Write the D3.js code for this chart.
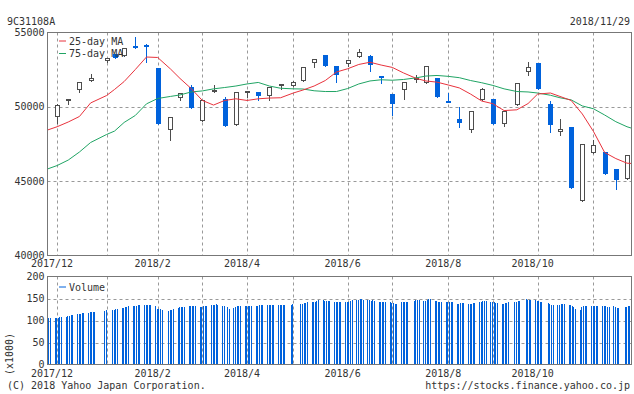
<!DOCTYPE html>
<html>
<head>
<meta charset="utf-8">
<script src="https://cdn.jsdelivr.net/npm/d3@7"></script>
<style>
  body { margin: 0; background: #fff; }
  text { font-family: "DejaVu Sans Mono", monospace; font-size: 10px; fill: #333; }
</style>
</head>
<body>
<svg id="chart" width="634" height="394"></svg>
<script>
// weekly candles (first trading day of each week)
const weekStarts = [
  "2017-12-04","2017-12-11","2017-12-18","2017-12-25","2018-01-04","2018-01-09","2018-01-15","2018-01-22","2018-01-29",
  "2018-02-05","2018-02-13","2018-02-19","2018-02-26","2018-03-05","2018-03-12","2018-03-19","2018-03-26",
  "2018-04-02","2018-04-09","2018-04-16","2018-04-23","2018-05-01","2018-05-07","2018-05-14","2018-05-21","2018-05-28",
  "2018-06-04","2018-06-11","2018-06-18","2018-06-25","2018-07-02","2018-07-09","2018-07-17","2018-07-23","2018-07-30",
  "2018-08-06","2018-08-13","2018-08-20","2018-08-27","2018-09-03","2018-09-10","2018-09-18","2018-09-25",
  "2018-10-01","2018-10-09","2018-10-15","2018-10-22","2018-10-29","2018-11-05","2018-11-12","2018-11-19","2018-11-26"
];
const opens = [
  49300,50360,51100,51770,53070,53570,53410,54060,54190,52600,48460,50610,51320,49080,51050,50540,48790,
  51030,51030,50740,51370,51390,51720,52940,53520,52780,52900,53340,53450,52090,50830,51150,51820,51620,51950,
  50380,49150,48460,50470,50560,48860,50140,52330,52980,50160,48320,48610,43680,46910,46930,45850,45160
];
const highs = [
  50160,50540,51700,52220,53270,53570,53970,54680,54240,52600,49300,50940,51500,50470,51500,50650,51030,
  51090,51030,51320,51550,51770,52710,53230,53520,52780,53180,53860,53500,52090,50830,51700,52160,52780,51950,
  50920,50020,49690,51250,50560,49730,51620,53000,52980,50360,49200,48610,47470,47800,46930,45850,46770
];
const lows = [
  48900,50160,51000,51770,53000,53270,53410,53990,53000,48860,47780,50430,49910,49080,51000,48700,48790,
  50650,50430,50490,51170,51390,51720,52710,52730,51660,52730,53340,52400,51590,49420,50540,51700,51620,50650,
  50340,48630,48290,50470,48860,48740,50140,52160,51170,48290,48120,44530,43680,46910,45470,44440,45160
];
const closes = [
  50090,50540,51700,51930,53270,53270,53970,53990,54100,48860,49300,50940,49910,50470,51120,48700,51030,
  51090,50700,51320,51550,51640,52710,53230,52730,52160,53120,53720,52830,51990,50160,51700,51950,52780,50650,
  50340,48900,49690,51170,48860,49730,51620,52670,51170,48790,48480,44530,47470,47450,45470,45050,46770
];

// moving averages read at the candle positions (plus both ends)
const maDates = ["2017-11-28"].concat(weekStarts, ["2018-11-29"]);
const ma25 = [
  48440,48660,48980,49350,50260,50760,51170,51700,52510,53350,53320,52550,51910,51230,50430,50120,50430,50540,
  50430,50540,50590,50610,50930,51130,51400,51770,52340,52560,52850,53000,52810,52650,52280,51910,51740,51660,
  51470,51270,50860,50390,50210,49750,49800,50220,50860,50930,50700,50430,49520,48340,46930,46520,46210,46190
];
const ma75 = [
  45820,46050,46420,46960,47600,48140,48370,48950,49420,50200,50560,50700,50800,51000,51070,51210,51300,51400,
  51540,51640,51400,51250,51210,51200,51080,51030,51030,51230,51540,51740,51820,51790,51840,51950,52070,52110,
  52050,51960,51770,51620,51440,51210,51030,51000,50930,50780,50610,50470,50060,49870,49450,49000,48660,48560
];

// daily volume (x1000), grouped by week, first group is the partial week of 2017-11-29
const volumeByWeek = [
  [104,105,105],[105,106,106,107,108],[109,110,110,112,113],[114,115,115,116,117],[118,119,119,119,119],
  [121,123],[124,125,126,126],[128,129,130,131,132],[133,134,134,135,135],[135,136,135,136,136],
  [133,127,126,126,125],[122,123,124,126],[129,130,130,131,131],[132,132,133,133,133],[130,131,132,133,133],
  [135,136,136,137,136],[134,133,130,127],[128,131,132,132,134],[134,134,134,134,134],[134,134,135,136,136],
  [136,135,136,136,136],[136,136,136,136,136],[136,138],[138,138,139,139,141],[141,142,142,144,146],
  [146,145,145,144,144],[143,142,141,141,141],[142,143,143,145,146],[147,147,148,148,147],[147,146,145,146,145],
  [143,143,143,143,143],[141,140,139,138,137],[141,141,141,141,141],[145,146,146,146],[144,145,147,148,148],
  [145,145,143,142,141],[141,141,142,143,143],[137,138,139,140,140],[137,137,138,139,139],[143,143,144,145,145],
  [143,142,141,140,139],[137,138,139,140,141],[142,143,144,145],[149,147,146,146],[146,145,144,143,141],
  [139,138,136,135],[135,136,137,138,138],[136,135,133,130,127],[125,130,132,133,134],[133,133,134,134,134],
  [132,132,132,131,130],[132,130,129,129],[131,131,132,132]
];
const holidays = [
  "2018-01-01","2018-01-02","2018-01-03","2018-01-08","2018-02-12","2018-03-21","2018-04-30","2018-05-03",
  "2018-05-04","2018-07-16","2018-09-17","2018-09-24","2018-10-08","2018-11-23"
];

const priceTicks = [40000, 45000, 50000, 55000];
const volumeTicks = [0, 50, 100, 150, 200];
const monthGrid = ["2017-12-04","2018-01-04","2018-02-05","2018-03-05","2018-04-02","2018-05-01",
  "2018-06-04","2018-07-02","2018-08-06","2018-09-03","2018-10-01","2018-11-05"];
const monthLabelDates = ["2017-12-04","2018-02-05","2018-04-02","2018-06-04","2018-08-06","2018-10-01"];
const monthLabels = ["2017/12","2018/2","2018/4","2018/6","2018/8","2018/10"];

const BLUE = "#0062dc", RED = "#e8323c", GREEN = "#20a464", DARK = "#4d4d4d";
const parse = d3.timeParse("%Y-%m-%d");
const fmt = d3.timeFormat("%Y-%m-%d");

const svg = d3.select("#chart");
const left = 47.5, right = 631.5;
const main = { top: 32.5, bottom: 255.5 };
const vol = { top: 276.5, bottom: 364.5 };

const x = d3.scaleTime()
  .domain([new Date(2017, 10, 29, 6), new Date(2018, 10, 29, 18)])
  .range([left, 631]);
const xc = d => x(d) + 2; // candle centre
const y = d3.scaleLinear().domain([40000, 55000]).range([main.bottom, main.top]);
const vy = d3.scaleLinear().domain([0, 200]).range([vol.bottom, vol.top]);

// header
svg.append("text").attr("x", 7).attr("y", 25).text("9C31108A");
svg.append("text").attr("x", 630).attr("y", 25).attr("text-anchor", "end").text("2018/11/29");

// clip paths
const defs = svg.append("defs");
defs.append("clipPath").attr("id", "clipMain").append("rect")
  .attr("x", left).attr("y", main.top).attr("width", right - left).attr("height", main.bottom - main.top);
defs.append("clipPath").attr("id", "clipVol").append("rect")
  .attr("x", left).attr("y", vol.top).attr("width", right - left).attr("height", vol.bottom - vol.top);

function grid(panel, yScale, ticks) {
  const g = svg.append("g").attr("stroke", "#999").attr("stroke-dasharray", "3,3");
  g.selectAll("line.v").data(monthGrid).join("line")
    .attr("x1", d => Math.round(xc(parse(d))) + 0.5).attr("x2", d => Math.round(xc(parse(d))) + 0.5)
    .attr("y1", panel.top).attr("y2", panel.bottom);
  g.selectAll("line.h").data(ticks.slice(1, -1)).join("line")
    .attr("x1", left).attr("x2", right)
    .attr("y1", d => Math.round(yScale(d)) + 0.5).attr("y2", d => Math.round(yScale(d)) + 0.5);
}

function yLabels(yScale, ticks) {
  svg.append("g").selectAll("text").data(ticks).join("text")
    .attr("x", 44.5).attr("y", d => yScale(d) + 3.5)
    .attr("text-anchor", "end").text(d => d);
}

function xLabels(baseline) {
  svg.append("g").selectAll("text").data(monthLabelDates).join("text")
    .attr("x", d => xc(parse(d)) - 5).attr("y", baseline)
    .attr("text-anchor", "middle").text((d, i) => monthLabels[i]);
}

// ---- price panel ----
grid(main, y, priceTicks);

const candles = weekStarts.map((d, i) => ({
  date: parse(d), o: opens[i], h: highs[i], l: lows[i], c: closes[i]
}));

const cg = svg.append("g").attr("clip-path", "url(#clipMain)");
const line = d3.line().x(d => xc(d.date)).y(d => y(d.v));
const maData = (arr) => arr.map((v, i) => ({ date: parse(maDates[i]), v }));

candles.forEach(d => {
  const up = d.c >= d.o;
  const col = up ? DARK : BLUE;
  const cx = Math.round(xc(d.date));
  cg.append("line")
    .attr("x1", cx + 0.5).attr("x2", cx + 0.5)
    .attr("y1", Math.round(y(d.h))).attr("y2", Math.round(y(d.l)) + 1)
    .attr("stroke", col);
  const top = Math.round(y(Math.max(d.o, d.c)));
  const h = Math.max(Math.round(y(Math.min(d.o, d.c))) - top, 2);
  if (up) {
    cg.append("rect").attr("x", cx - 2 + 0.5).attr("y", top + 0.5)
      .attr("width", 4).attr("height", Math.max(h - 1, 1))
      .attr("fill", "#fff").attr("stroke", DARK);
  } else {
    cg.append("rect").attr("x", cx - 2).attr("y", top)
      .attr("width", 5).attr("height", h).attr("fill", BLUE);
  }
});

cg.append("path").datum(maData(ma75)).attr("d", line)
  .attr("fill", "none").attr("stroke", GREEN).attr("stroke-width", 1);
cg.append("path").datum(maData(ma25)).attr("d", line)
  .attr("fill", "none").attr("stroke", RED).attr("stroke-width", 1);

svg.append("rect").attr("x", left).attr("y", main.top)
  .attr("width", right - left).attr("height", main.bottom - main.top)
  .attr("fill", "none").attr("stroke", "#777");

yLabels(y, priceTicks);
xLabels(267);

// legend
[["25-day MA", RED, 41], ["75-day MA", GREEN, 53.5]].forEach(([t, c, ly]) => {
  svg.append("line").attr("x1", 59).attr("x2", 66).attr("y1", ly).attr("y2", ly).attr("stroke", c);
  svg.append("text").attr("x", 69).attr("y", ly + 3.5).text(t);
});

// ---- volume panel ----
const holidaySet = new Set(holidays);
const days = d3.timeDay.range(new Date(2017, 10, 29), new Date(2018, 10, 30))
  .filter(d => d.getDay() !== 0 && d.getDay() !== 6 && !holidaySet.has(fmt(d)));
const weeks = d3.groups(days, d => +d3.timeMonday.floor(d));
const volumes = [];
weeks.forEach(([, ds], wi) => {
  const vals = volumeByWeek[wi] || [];
  ds.forEach((d, j) => { if (vals[j] != null) volumes.push({ date: d, v: vals[j] }); });
});

grid(vol, vy, volumeTicks);

svg.append("g").attr("clip-path", "url(#clipVol)")
  .attr("shape-rendering", "crispEdges")
  .selectAll("rect").data(volumes).join("rect")
  .attr("x", d => Math.floor(x(d.date)))
  .attr("y", d => Math.round(vy(d.v)))
  .attr("width", 1)
  .attr("height", d => vol.bottom - Math.round(vy(d.v)))
  .attr("fill", BLUE);

svg.append("rect").attr("x", left).attr("y", vol.top)
  .attr("width", right - left).attr("height", vol.bottom - vol.top)
  .attr("fill", "none").attr("stroke", "#777");

yLabels(vy, volumeTicks);
xLabels(377);

svg.append("line").attr("x1", 59).attr("x2", 66).attr("y1", 287).attr("y2", 287).attr("stroke", BLUE);
svg.append("text").attr("x", 69).attr("y", 290.5).text("Volume");

svg.append("text").attr("transform", "translate(12.5,354) rotate(-90)")
  .attr("text-anchor", "middle").text("(x1000)");

// footer
svg.append("text").attr("x", 7).attr("y", 389).text("(C) 2018 Yahoo Japan Corporation.");
svg.append("text").attr("x", 630).attr("y", 389).attr("text-anchor", "end")
  .text("https://stocks.finance.yahoo.co.jp");
</script>
</body>
</html>
